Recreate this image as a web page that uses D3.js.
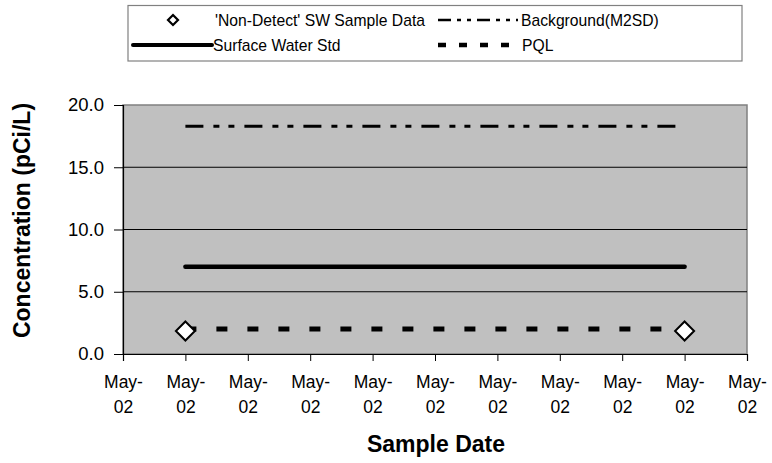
<!DOCTYPE html>
<html>
<head>
<meta charset="utf-8">
<script src="https://cdn.jsdelivr.net/npm/d3@7"></script>
<style>
  html, body { margin: 0; padding: 0; background: #fff; }
  svg { display: block; font-family: "Liberation Sans", Arial, sans-serif; }
</style>
</head>
<body>
<svg id="chart" width="772" height="463"></svg>
<script>
// ---- data ----
const xTickLabels = ["May-02","May-02","May-02","May-02","May-02","May-02","May-02","May-02","May-02","May-02","May-02"];
const sampleIdx = [1, 9];
const nonDetectValues = [1.85, 1.85];
const backgroundValues = [18.3, 18.3];
const surfaceWaterStd = [7.0, 7.0];
const pqlValues = [2.0, 2.0];
const yTicks = [0, 5, 10, 15, 20];

// ---- layout ----
const svg = d3.select("#chart");
const plot = { left: 123, right: 747, top: 105, bottom: 354 };

const x = d3.scaleLinear().domain([0, xTickLabels.length - 1]).range([plot.left, plot.right]);
const y = d3.scaleLinear().domain([0, 20]).range([plot.bottom, plot.top]);

// plot background
svg.append("rect")
  .attr("x", plot.left).attr("y", plot.top)
  .attr("width", plot.right - plot.left).attr("height", plot.bottom - plot.top)
  .attr("fill", "#c0c0c0")
  .attr("stroke", "#808080").attr("stroke-width", 1.5);

// gridlines
svg.append("g").selectAll("line").data(yTicks.filter(d => d > 0 && d < 20)).join("line")
  .attr("x1", plot.left).attr("x2", plot.right)
  .attr("y1", d => y(d)).attr("y2", d => y(d))
  .attr("stroke", "#000").attr("stroke-width", 1);

// y axis
const yAxis = svg.append("g").attr("transform", `translate(${plot.left},0)`)
  .call(d3.axisLeft(y).tickValues(yTicks).tickFormat(d3.format(".1f")).tickSize(9).tickPadding(10));
yAxis.select(".domain").attr("stroke", "#000").attr("stroke-width", 1.2);
yAxis.selectAll(".tick line").attr("stroke", "#000");
yAxis.selectAll("text").attr("font-size", 18.5).attr("fill", "#000")
  .attr("font-family", "Liberation Sans, Arial, sans-serif");

// x axis
const xAxis = svg.append("g").attr("transform", `translate(0,${plot.bottom})`)
  .call(d3.axisBottom(x).tickValues(d3.range(xTickLabels.length)).tickFormat(i => xTickLabels[i]).tickSize(7));
xAxis.select(".domain").attr("stroke", "#000").attr("stroke-width", 1.2);
xAxis.selectAll(".tick line").attr("stroke", "#000");
xAxis.selectAll(".tick text").each(function(i) {
  const t = d3.select(this);
  const parts = xTickLabels[i].split("-");
  t.text(null).attr("font-size", 17.5).attr("fill", "#000")
    .attr("font-family", "Liberation Sans, Arial, sans-serif").attr("y", 0).attr("dy", null);
  t.append("tspan").attr("x", 0).attr("y", 34).text(parts[0] + "-");
  t.append("tspan").attr("x", 0).attr("y", 59).text(parts[1]);
});

// series lines
const line = d3.line().x(d => x(d[0])).y(d => y(d[1]));
const zip = vals => sampleIdx.map((xi, k) => [xi, vals[k]]);

svg.append("path").datum(zip(backgroundValues)).attr("d", line)
  .attr("fill", "none").attr("stroke", "#000").attr("stroke-width", 3)
  .attr("stroke-dasharray", "18,10,6,9,6,10");

svg.append("path").datum(zip(surfaceWaterStd)).attr("d", line)
  .attr("fill", "none").attr("stroke", "#000").attr("stroke-width", 4.5)
  .attr("stroke-linecap", "round");

svg.append("path").datum(zip(pqlValues)).attr("d", line)
  .attr("fill", "none").attr("stroke", "#000").attr("stroke-width", 5)
  .attr("stroke-dasharray", "11,20");

// non-detect diamonds
const diamond = r => `M0,${-r}L${r},0L0,${r}L${-r},0Z`;
svg.append("g").selectAll("path").data(zip(nonDetectValues)).join("path")
  .attr("transform", d => `translate(${x(d[0])},${y(d[1])})`)
  .attr("d", diamond(9.5))
  .attr("fill", "#fff").attr("stroke", "#000").attr("stroke-width", 2);

// axis titles
svg.append("text")
  .attr("x", (plot.left + plot.right) / 2 + 1).attr("y", 452)
  .attr("text-anchor", "middle").attr("font-size", 23).attr("font-weight", "bold")
  .text("Sample Date");

svg.append("text")
  .attr("transform", `translate(30,${(plot.top + plot.bottom) / 2 - 9}) rotate(-90)`)
  .attr("text-anchor", "middle").attr("font-size", 23).attr("font-weight", "bold")
  .text("Concentration (pCi/L)");

// legend
const lg = svg.append("g");
lg.append("rect").attr("x", 128).attr("y", 5.5).attr("width", 614).attr("height", 55.5)
  .attr("fill", "#fff").attr("stroke", "#808080").attr("stroke-width", 1.2);

const fs = 15.7;
lg.append("path").attr("transform", "translate(173,20)").attr("d", diamond(5))
  .attr("fill", "#fff").attr("stroke", "#000").attr("stroke-width", 2.2);
lg.append("text").attr("x", 215).attr("y", 25.5).attr("font-size", fs).text("'Non-Detect' SW Sample Data");

lg.append("line").attr("x1", 438).attr("x2", 518).attr("y1", 20).attr("y2", 20)
  .attr("stroke", "#000").attr("stroke-width", 2.5).attr("stroke-dasharray", "13,6,4,6,4,6");
lg.append("text").attr("x", 521).attr("y", 25.5).attr("font-size", fs).text("Background(M2SD)");

lg.append("line").attr("x1", 133).attr("x2", 212).attr("y1", 45).attr("y2", 45)
  .attr("stroke", "#000").attr("stroke-width", 4).attr("stroke-linecap", "round");
lg.append("text").attr("x", 213).attr("y", 50.5).attr("font-size", fs).text("Surface Water Std");

lg.append("line").attr("x1", 438).attr("x2", 512).attr("y1", 45).attr("y2", 45)
  .attr("stroke", "#000").attr("stroke-width", 4.5).attr("stroke-dasharray", "8,13");
lg.append("text").attr("x", 522).attr("y", 50.5).attr("font-size", fs).text("PQL");
</script>
</body>
</html>
